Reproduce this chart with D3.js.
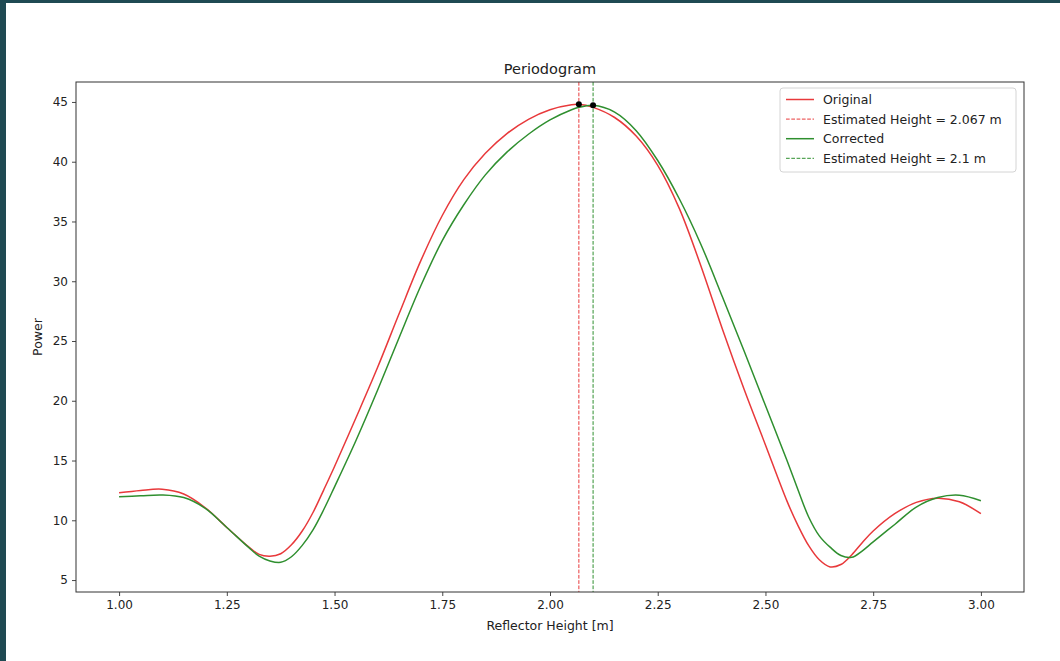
<!DOCTYPE html>
<html>
<head>
<meta charset="utf-8">
<script src="https://cdn.jsdelivr.net/npm/d3@7/dist/d3.min.js"></script>
<style>
  html, body { margin: 0; padding: 0; background: #ffffff; }
  svg { display: block; }
  text { font-family: "DejaVu Sans", sans-serif; fill: #222; }
</style>
</head>
<body>
<svg id="chart" width="1060" height="661"></svg>
<script>
// ---- data ----
const heights = [1.00, 1.05, 1.10, 1.15, 1.20, 1.25, 1.30, 1.325, 1.35, 1.375, 1.40, 1.425, 1.45, 1.475, 1.50, 1.55, 1.60, 1.65, 1.70, 1.75, 1.80, 1.85, 1.90, 1.95, 2.00, 2.05, 2.067, 2.10, 2.15, 2.20, 2.25, 2.30, 2.35, 2.40, 2.45, 2.50, 2.55, 2.575, 2.60, 2.625, 2.65, 2.675, 2.70, 2.725, 2.75, 2.80, 2.85, 2.90, 2.95, 3.00];
const originalPower = [12.3, 12.5, 12.6, 12.2, 11.05, 9.4, 7.8, 7.15, 7.0, 7.2, 7.95, 9.1, 10.65, 12.55, 14.5, 18.6, 22.8, 27.3, 31.7, 35.5, 38.5, 40.7, 42.35, 43.55, 44.35, 44.77, 44.8, 44.55, 43.7, 42.15, 39.7, 36.1, 31.3, 26.0, 21.0, 16.3, 11.6, 9.6, 7.9, 6.7, 6.1, 6.3, 7.1, 8.15, 9.1, 10.55, 11.5, 11.85, 11.55, 10.55];
const correctedPower = [11.97, 12.05, 12.12, 11.9, 11.0, 9.4, 7.75, 7.0, 6.6, 6.48, 6.95, 7.9, 9.2, 10.9, 12.8, 16.7, 20.9, 25.3, 29.6, 33.4, 36.4, 38.9, 40.8, 42.3, 43.5, 44.35, 44.55, 44.72, 44.15, 42.6, 40.1, 36.9, 33.1, 28.7, 24.2, 19.6, 15.0, 12.6, 10.3, 8.7, 7.75, 7.05, 6.9, 7.45, 8.2, 9.65, 11.1, 11.9, 12.1, 11.64];
const estimates = [
  { h: 2.067, p: 44.8, label: "Estimated Height = 2.067 m", series: "Original" },
  { h: 2.1,   p: 44.72, label: "Estimated Height = 2.1 m", series: "Corrected" }
];
const xTicks = [1.00, 1.25, 1.50, 1.75, 2.00, 2.25, 2.50, 2.75, 3.00];
const yTicks = [5, 10, 15, 20, 25, 30, 35, 40, 45];
const colors = { Original: "#e8393b", Corrected: "#2f8f2f" };

// ---- layout ----
const svg = d3.select("#chart");
const W = 1060, H = 661;
const mLeft = 76, mRight = 1024, mTop = 82, mBottom = 592;

// frame
svg.append("rect").attr("x", 0).attr("y", 0).attr("width", W).attr("height", H).attr("fill", "#ffffff");
svg.append("rect").attr("x", 0).attr("y", 0).attr("width", W).attr("height", 3).attr("fill", "#1f4a53");
svg.append("rect").attr("x", 0).attr("y", 0).attr("width", 6).attr("height", H).attr("fill", "#1f4a53");

const x = d3.scaleLinear().domain([0.9, 3.1]).range([mLeft, mRight]);
const y = d3.scaleLinear().domain([4.0, 46.67]).range([mBottom, mTop]);

const g = svg.append("g");

svg.append("clipPath").attr("id", "clip").append("rect")
  .attr("x", mLeft).attr("y", mTop).attr("width", mRight - mLeft).attr("height", mBottom - mTop);

const plot = g.append("g").attr("clip-path", "url(#clip)");

const line = d3.line().x(d => x(d[0])).y(d => y(d[1])).curve(d3.curveCatmullRom.alpha(0.5));

const seriesList = [
  { name: "Original", values: originalPower },
  { name: "Corrected", values: correctedPower }
];

estimates.forEach(e => {
  plot.append("line")
    .attr("x1", x(e.h)).attr("x2", x(e.h))
    .attr("y1", mTop).attr("y2", mBottom)
    .attr("stroke", colors[e.series]).attr("stroke-width", 1)
    .attr("stroke-dasharray", "3.7,1.6");
});

seriesList.forEach(s => {
  plot.append("path")
    .datum(heights.map((h, i) => [h, s.values[i]]))
    .attr("fill", "none")
    .attr("stroke", colors[s.name])
    .attr("stroke-width", 1.5)
    .attr("d", line);
});

estimates.forEach(e => {
  plot.append("circle").attr("cx", x(e.h)).attr("cy", y(e.p)).attr("r", 3).attr("fill", "#000");
});

// axes
const xAxis = d3.axisBottom(x).tickValues(xTicks).tickFormat(d3.format(".2f")).tickSize(4).tickPadding(4);
const yAxis = d3.axisLeft(y).tickValues(yTicks).tickFormat(d3.format("d")).tickSize(4).tickPadding(4);

const gx = g.append("g").attr("transform", `translate(0,${mBottom})`).call(xAxis);
const gy = g.append("g").attr("transform", `translate(${mLeft},0)`).call(yAxis);
[gx, gy].forEach(a => {
  a.select(".domain").remove();
  a.selectAll(".tick line").attr("stroke", "#333").attr("stroke-width", 0.9);
  a.selectAll(".tick text").attr("font-family", "DejaVu Sans").attr("font-size", 12).attr("fill", "#222");
});

g.append("rect").attr("x", mLeft).attr("y", mTop).attr("width", mRight - mLeft).attr("height", mBottom - mTop)
  .attr("fill", "none").attr("stroke", "#333").attr("stroke-width", 1);

// titles
svg.append("text").attr("x", (mLeft + mRight) / 2).attr("y", 74).attr("text-anchor", "middle")
  .attr("font-size", 14.5).text("Periodogram");
svg.append("text").attr("x", (mLeft + mRight) / 2).attr("y", 630).attr("text-anchor", "middle")
  .attr("font-size", 12.5).text("Reflector Height [m]");
svg.append("text").attr("transform", `translate(42,${(mTop + mBottom) / 2}) rotate(-90)`)
  .attr("text-anchor", "middle").attr("font-size", 12.5).text("Power");

// legend
const legendItems = [
  { label: "Original", color: colors.Original, dash: null },
  { label: estimates[0].label, color: colors.Original, dash: "3.7,1.6", thin: true },
  { label: "Corrected", color: colors.Corrected, dash: null },
  { label: estimates[1].label, color: colors.Corrected, dash: "3.7,1.6", thin: true }
];
const lg = svg.append("g").attr("transform", "translate(780,88)");
lg.append("rect").attr("x", 0).attr("y", 0).attr("width", 236).attr("height", 84).attr("rx", 3)
  .attr("fill", "#fff").attr("fill-opacity", 0.85).attr("stroke", "#d4d4d4").attr("stroke-width", 1);
legendItems.forEach((it, i) => {
  const yy = 11.5 + i * 19.6;
  lg.append("line").attr("x1", 6).attr("x2", 34).attr("y1", yy).attr("y2", yy)
    .attr("stroke", it.color).attr("stroke-width", it.thin ? 1 : 1.5)
    .attr("stroke-dasharray", it.dash);
  lg.append("text").attr("x", 43).attr("y", yy + 4.5).attr("font-size", 12.5).text(it.label);
});
</script>
</body>
</html>
